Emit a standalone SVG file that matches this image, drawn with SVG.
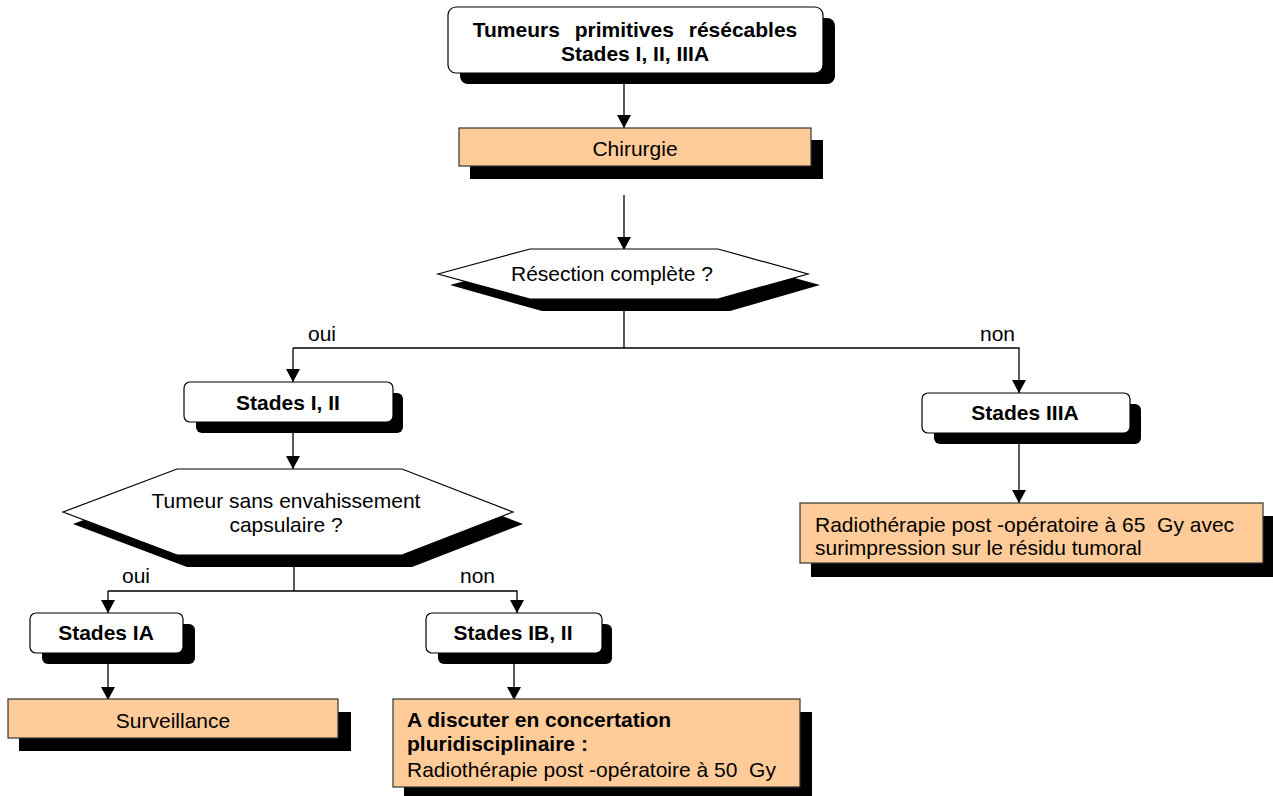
<svg xmlns="http://www.w3.org/2000/svg" width="1273" height="796" viewBox="0 0 1273 796">
<defs>
<marker id="arr" markerWidth="14" markerHeight="14" refX="13" refY="7" orient="auto" markerUnits="userSpaceOnUse">
<path d="M0,0 L13,7 L0,14 Z" fill="#000"/>
</marker>
<style>
text{font-family:"Liberation Sans",Arial,sans-serif;font-size:21px;fill:#000;white-space:pre}
.b{font-weight:bold}
.m{text-anchor:middle}
.sh{fill:#000}
.w{fill:#fff;stroke:#000;stroke-width:1.2}
.o{fill:#FFCC99;stroke:#333;stroke-width:1.2}
.c{stroke:#000;stroke-width:1.3;fill:none}
</style>
</defs>
<rect width="1273" height="796" fill="#fff"/>

<g id="connectors">
<line class="c" x1="624" y1="84" x2="624" y2="128" marker-end="url(#arr)"/>
<line class="c" x1="624" y1="195" x2="624" y2="250" marker-end="url(#arr)"/>
<polyline class="c" points="624,311 624,348"/>
<polyline class="c" points="293,348 1019,348 1019,393" marker-end="url(#arr)"/>
<line class="c" x1="293" y1="348" x2="293" y2="382" marker-end="url(#arr)"/>
<line class="c" x1="293" y1="433" x2="293" y2="469" marker-end="url(#arr)"/>
<polyline class="c" points="294,567 294,591"/>
<polyline class="c" points="108,591 517,591 517,613" marker-end="url(#arr)"/>
<line class="c" x1="108" y1="591" x2="108" y2="613" marker-end="url(#arr)"/>
<line class="c" x1="108" y1="664" x2="108" y2="700" marker-end="url(#arr)"/>
<line class="c" x1="514" y1="664" x2="514" y2="700" marker-end="url(#arr)"/>
<line class="c" x1="1019" y1="444" x2="1019" y2="503" marker-end="url(#arr)"/>
<text x="308" y="341">oui</text>
<text x="980" y="341">non</text>
<text x="122" y="583">oui</text>
<text x="460" y="583">non</text>
</g>

<g id="n-tumeurs">
<rect class="sh" x="460" y="18" width="375" height="66" rx="8"/>
<rect class="w" x="448" y="7" width="375" height="66" rx="8"/>
<text class="b m" x="635" y="37" word-spacing="9">Tumeurs primitives résécables</text>
<text class="b m" x="635" y="61">Stades I, II, IIIA</text>
</g>

<g id="n-chirurgie">
<rect class="sh" x="470" y="140" width="353" height="39"/>
<rect class="o" x="459" y="128" width="352" height="38"/>
<text class="m" x="635" y="156">Chirurgie</text>
</g>

<g id="n-resection">
<polygon class="sh" points="450,285 542,260 730,260 820,285 730,311 542,311"/>
<polygon class="w" points="438,274 530,249 718,249 808,274 718,299 530,299"/>
<text class="m" x="612" y="281">Résection complète ?</text>
</g>

<g id="n-stades12">
<rect class="sh" x="196" y="393" width="207" height="40" rx="6"/>
<rect class="w" x="184" y="382" width="209" height="40" rx="6"/>
<text class="b m" x="288" y="410">Stades I, II</text>
</g>

<g id="n-capsule">
<polygon class="sh" points="73,524 187,481 412,481 523,524 412,567 187,567"/>
<polygon class="w" points="63,512 177,469 402,469 513,512 402,555 177,555"/>
<text class="m" x="286" y="508">Tumeur sans envahissement</text>
<text class="m" x="286" y="532">capsulaire ?</text>
</g>

<g id="n-stadesIA">
<rect class="sh" x="42" y="624" width="153" height="40" rx="6"/>
<rect class="w" x="30" y="613" width="153" height="40" rx="6"/>
<text class="b m" x="106" y="640">Stades IA</text>
</g>

<g id="n-surveillance">
<rect class="sh" x="19" y="712" width="332" height="39"/>
<rect class="o" x="8" y="699" width="330" height="39"/>
<text class="m" x="173" y="728">Surveillance</text>
</g>

<g id="n-stadesIB">
<rect class="sh" x="438" y="624" width="174" height="40" rx="6"/>
<rect class="w" x="426" y="613" width="176" height="40" rx="6"/>
<text class="b m" x="513" y="640">Stades IB, II</text>
</g>

<g id="n-discuter">
<rect class="sh" x="404" y="712" width="408" height="84"/>
<rect class="o" x="393" y="699" width="407" height="88"/>
<text class="b" x="407" y="727">A discuter en concertation</text>
<text class="b" x="407" y="751">pluridisciplinaire :</text>
<text x="407" y="777">Radiothérapie post -opératoire à 50  Gy</text>
</g>

<g id="n-stadesIIIA">
<rect class="sh" x="934" y="404" width="207" height="40" rx="6"/>
<rect class="w" x="922" y="393" width="208" height="40" rx="6"/>
<text class="b m" x="1025" y="420">Stades IIIA</text>
</g>

<g id="n-radio65">
<rect class="sh" x="811" y="516" width="462" height="61"/>
<rect class="o" x="800" y="503" width="463" height="60"/>
<text x="815" y="532">Radiothérapie post -opératoire à 65  Gy avec</text>
<text x="815" y="555">surimpression sur le résidu tumoral</text>
</g>
</svg>
